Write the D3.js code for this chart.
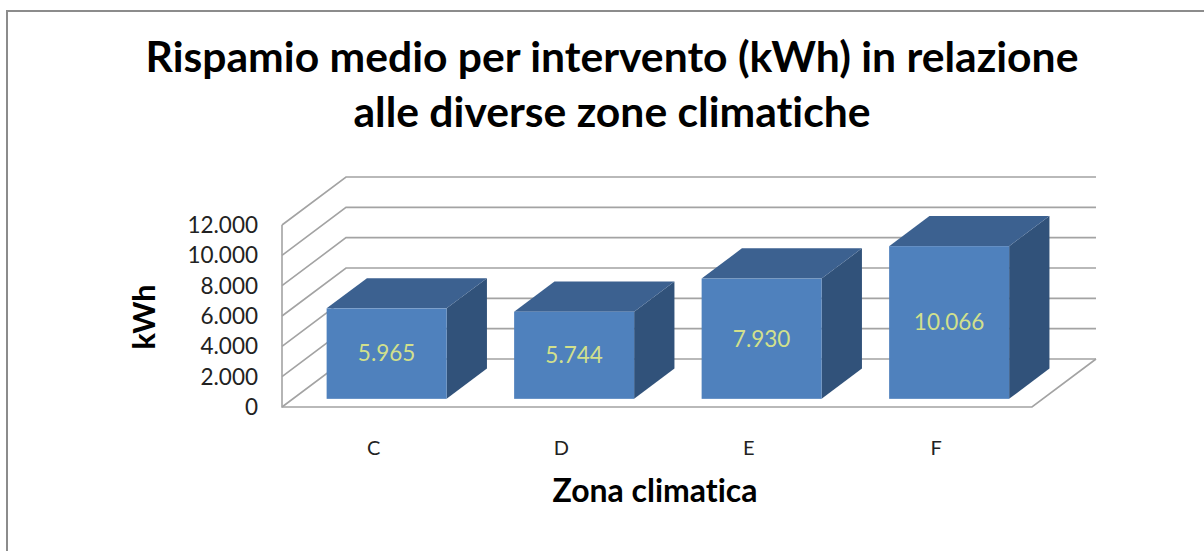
<!DOCTYPE html>
<html><head><meta charset="utf-8">
<script src="https://cdn.jsdelivr.net/npm/d3@7"></script>
<style>body{margin:0;background:#fff}svg{display:block}text{font-family:Lato,"Open Sans",sans-serif;font-variant-ligatures:none;font-feature-settings:"liga" 0,"clig" 0}</style>
</head><body>
<svg id="c" width="1204" height="551"></svg>
<script>
const categories = ["C","D","E","F"];
const values = [5965, 5744, 7930, 10066];
const valueLabels = ["5.965","5.744","7.930","10.066"];
const yTicks = [0,2000,4000,6000,8000,10000,12000];
const yTickLabels = ["0","2.000","4.000","6.000","8.000","10.000","12.000"];
const titleLines = ["Rispamio medio per intervento (kWh) in relazione","alle diverse zone climatiche"];
const yTitle = "kWh";
const xTitle = "Zona climatica";

const svg = d3.select("#c");
const X0 = 282, X1 = 1032, Y0 = 407, Ytop = 225;
const DX = 64, DY = -48;
const F0 = 0.17, FD = 0.63;
const y = d3.scaleLinear().domain([0,12000]).range([Y0,Ytop]);
const x = d3.scaleBand().domain(categories).range([X0,X1]).paddingInner(0.36).paddingOuter(0.18);

function fit(sel, w){
  const n = sel.node(); const base = 20; sel.attr("font-size", base);
  const m = n.getComputedTextLength(); sel.attr("font-size", base*w/m);
  return sel;
}

// border
svg.append("rect").attr("x",7).attr("y",11).attr("width",1400).attr("height",800)
  .attr("fill","none").attr("stroke","#8c8c8c").attr("stroke-width",2);

// gridlines (side wall + back wall)
const gc = "#a3a3a3";
const grid = svg.append("g").attr("fill","none").attr("stroke",gc).attr("stroke-width",1.6);
yTicks.forEach(t=>{
  const yy = y(t);
  grid.append("path").attr("d",`M${X0},${yy}L${X0+DX},${yy+DY}L${X1+DX},${yy+DY}`);
});
grid.append("path").attr("d",`M${X0},${y(12000)}L${X0},${y(0)}L${X1},${y(0)}L${X1+DX},${y(0)+DY}`);

// bars
const bars = svg.append("g");
categories.forEach((c,i)=>{
  const bx = x(c) + DX*F0, bw = x.bandwidth();
  const by0 = y(0) + DY*F0, byt = y(values[i]) + DY*F0;
  const ddx = DX*FD, ddy = DY*FD;
  bars.append("path").attr("fill","#31527a")
    .attr("d",`M${bx+bw},${by0}L${bx+bw+ddx},${by0+ddy}L${bx+bw+ddx},${byt+ddy}L${bx+bw},${byt}Z`);
  bars.append("path").attr("fill","#3c6190")
    .attr("d",`M${bx},${byt}L${bx+ddx},${byt+ddy}L${bx+bw+ddx},${byt+ddy}L${bx+bw},${byt}Z`);
  bars.append("rect").attr("x",bx).attr("y",byt).attr("width",bw).attr("height",by0-byt).attr("fill","#4f81bd");
  bars.append("text").attr("x",bx+bw/2).attr("y",(byt+by0)/2).attr("dy","0.35em")
    .attr("text-anchor","middle").attr("fill","#d2e08c").attr("font-size",22.5).text(valueLabels[i]);
});

// y tick labels
const yl = svg.append("g");
yTicks.forEach((t,i)=>{
  yl.append("text").attr("x",258).attr("y",y(t)).attr("dy","0.35em").attr("text-anchor","end")
    .attr("fill","#222").attr("font-size",22.5).text(yTickLabels[i]);
});

// category labels
categories.forEach(c=>{
  svg.append("text").attr("x",x(c)+x.bandwidth()/2-2).attr("y",455).attr("text-anchor","middle")
    .attr("fill","#222").attr("font-size",20).text(c);
});

// titles
const t1 = svg.append("text").attr("x",612).attr("y",72).attr("text-anchor","middle").attr("font-weight","bold").attr("fill","#000").text(titleLines[0]);
fit(t1, 933);
const t2 = svg.append("text").attr("x",612).attr("y",127).attr("text-anchor","middle").attr("font-weight","bold").attr("fill","#000").text(titleLines[1]);
t2.attr("font-size", t1.attr("font-size"));
const yt = svg.append("text").attr("transform","translate(155,317) rotate(-90)").attr("text-anchor","middle").attr("font-weight","bold").attr("fill","#000").text(yTitle);
fit(yt, 65);
const xt = svg.append("text").attr("x",655).attr("y",502).attr("text-anchor","middle").attr("font-weight","bold").attr("fill","#000").text(xTitle);
fit(xt, 205);
</script>
</body></html>
